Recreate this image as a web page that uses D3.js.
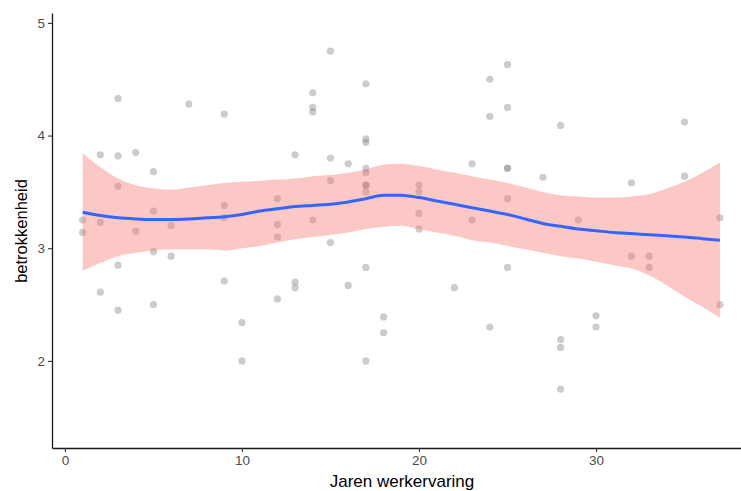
<!DOCTYPE html>
<html>
<head>
<meta charset="utf-8">
<script src="https://cdn.jsdelivr.net/npm/d3@7"></script>
<style>
  html, body { margin: 0; padding: 0; background: #fff; }
  svg { display: block; }
</style>
</head>
<body>
<svg id="chart" width="741" height="491"></svg>
<script>
// Scatter data: years of work experience vs. involvement
const pointX = [3,7,9,2,3,4,5,3,5,9,9,1,2,1,4,6,5,6,3,9,2,3,5,10,10,
  15,17,14,14,14,17,17,13,15,16,17,17,15,17,17,17,20,20,12,20,14,12,20,12,15,17,
  13,13,16,12,18,18,17,
  25,24,25,24,28,23,25,25,27,25,23,29,25,22,24,28,28,28,30,30,
  35,32,35,37,32,33,33,37];
const pointY = [4.33,4.28,4.19,3.83,3.82,3.85,3.68,3.55,3.33,3.38,3.27,3.25,3.23,3.14,3.15,3.20,2.97,2.93,2.85,2.71,2.61,2.45,2.50,2.34,2.00,
  4.75,4.46,4.38,4.25,4.21,3.97,3.94,3.83,3.80,3.75,3.71,3.67,3.60,3.56,3.56,3.50,3.56,3.50,3.44,3.31,3.25,3.21,3.17,3.10,3.05,2.83,
  2.70,2.65,2.67,2.55,2.39,2.25,2.00,
  4.63,4.50,4.25,4.17,4.09,3.75,3.71,3.71,3.63,3.44,3.25,3.25,2.83,2.65,2.30,2.19,2.12,1.75,2.40,2.30,
  4.12,3.58,3.64,3.27,2.93,2.93,2.83,2.50];

// Loess smooth with confidence band
const smoothX  = [1,2,3,4,5,6,7,8,9,10,11,12,13,14,15,16,17,18,19,20,21,22,23,24,25,26,27,28,29,30,31,32,33,34,35,36,37];
const smoothFit = [3.32,3.29,3.27,3.26,3.255,3.255,3.26,3.27,3.28,3.30,3.33,3.35,3.37,3.38,3.39,3.41,3.44,3.47,3.47,3.45,3.42,3.39,3.36,3.33,3.30,3.26,3.22,3.195,3.17,3.155,3.14,3.13,3.12,3.11,3.10,3.085,3.07];
const smoothLo = [2.80,2.87,2.93,2.96,2.98,2.99,2.99,2.99,2.98,3.00,3.02,3.05,3.08,3.10,3.12,3.14,3.17,3.19,3.20,3.17,3.14,3.11,3.07,3.05,3.02,2.99,2.96,2.93,2.91,2.88,2.85,2.82,2.76,2.67,2.57,2.48,2.38];
const smoothHi = [3.84,3.72,3.62,3.56,3.53,3.52,3.54,3.56,3.58,3.59,3.60,3.61,3.62,3.64,3.65,3.67,3.70,3.74,3.75,3.73,3.70,3.67,3.64,3.61,3.58,3.54,3.50,3.47,3.46,3.45,3.45,3.46,3.48,3.53,3.59,3.67,3.76];

const xTicks = [0,10,20,30];
const yTicks = [2,3,4,5];
const xTitle = "Jaren werkervaring";
const yTitle = "betrokkenheid";

const svg = d3.select("#chart");
const font = "'Liberation Sans', Arial, sans-serif";

const x = d3.scaleLinear().domain([-0.73, 38.81]).range([52, 752]);
const y = d3.scaleLinear().domain([1.227, 5.088]).range([448, 13]);

const band = smoothX.map((v, i) => ({x: v, fit: smoothFit[i], lo: smoothLo[i], hi: smoothHi[i]}));
const pts = pointX.map((v, i) => ({x: v, y: pointY[i]}));

// points
svg.append("g").selectAll("circle").data(pts).enter().append("circle")
  .attr("cx", d => x(d.x)).attr("cy", d => y(d.y)).attr("r", 3.6)
  .attr("fill", "#808080").attr("fill-opacity", 0.4);

// ribbon
svg.append("path").datum(band)
  .attr("d", d3.area().x(d => x(d.x)).y0(d => y(d.lo)).y1(d => y(d.hi)).curve(d3.curveMonotoneX))
  .attr("fill", "#F8766D").attr("fill-opacity", 0.4);

// line
svg.append("path").datum(band)
  .attr("d", d3.line().x(d => x(d.x)).y(d => y(d.fit)).curve(d3.curveMonotoneX))
  .attr("fill", "none").attr("stroke", "#3366FF").attr("stroke-width", 3);

// axes
const xAxis = svg.append("g").attr("transform", "translate(0,448)")
  .call(d3.axisBottom(x).tickValues(xTicks).tickSizeInner(4).tickSizeOuter(0).tickPadding(3).tickFormat(d3.format("d")));
const yAxis = svg.append("g").attr("transform", "translate(52,0)")
  .call(d3.axisLeft(y).tickValues(yTicks).tickSizeInner(4).tickSizeOuter(0).tickPadding(3).tickFormat(d3.format("d")));
[xAxis, yAxis].forEach(a => {
  a.select(".domain").attr("stroke", "#1a1a1a").attr("stroke-width", 1.3);
  a.selectAll(".tick line").attr("stroke", "#333").attr("stroke-width", 1.1);
  a.selectAll(".tick text").attr("fill", "#4d4d4d").style("font-size", "13.5px").style("font-family", font);
});

svg.append("text").attr("x", 402).attr("y", 487).attr("text-anchor", "middle")
  .style("font-family", font).style("font-size", "17px").attr("fill", "#000").text(xTitle);
svg.append("text").attr("transform", "translate(27,231) rotate(-90)").attr("text-anchor", "middle")
  .style("font-family", font).style("font-size", "16.5px").attr("fill", "#000").text(yTitle);
</script>
</body>
</html>
